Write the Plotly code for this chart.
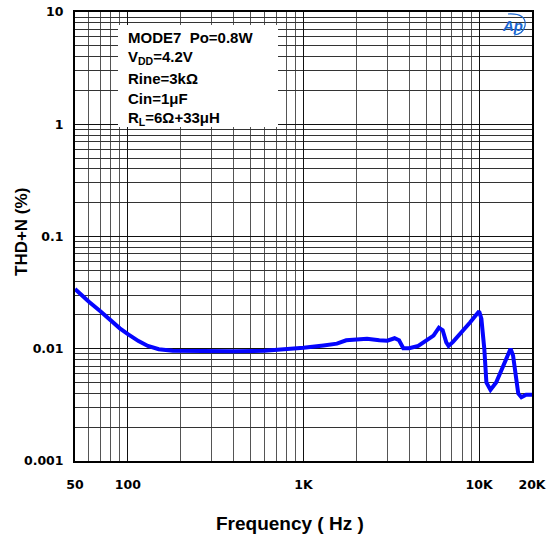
import math
import plotly.graph_objects as go

# ---- data ----
freq = [50, 55, 60, 70, 80, 90, 100, 115, 130, 150, 180, 250, 400, 600, 800,
        1000, 1300, 1550, 1750, 2000, 2300, 2700, 3000, 3300, 3500, 3700, 4000,
        4500, 5000, 5500, 5900, 6200, 6500, 6700, 7100, 7500, 8200, 8900, 9600,
        10000, 10300, 10700, 11000, 11600, 12500, 13500, 14500, 15100, 15600,
        16200, 16700, 17400, 18500, 20000]
thdn = [0.034, 0.0295, 0.0262, 0.0215, 0.0178, 0.0152, 0.0135, 0.0117, 0.0106,
        0.0099, 0.0096, 0.0095, 0.0095, 0.0096, 0.0099,
        0.0102, 0.0107, 0.0111, 0.0119, 0.0122, 0.0123, 0.0119, 0.0118, 0.0124,
        0.0119, 0.0101, 0.0101,
        0.0106, 0.0118, 0.0131, 0.0154, 0.0146, 0.0114, 0.0106, 0.0115, 0.0127,
        0.0145, 0.0172, 0.0200,
        0.0215, 0.0185, 0.0100, 0.0050, 0.0043, 0.0050, 0.0066, 0.0086, 0.0100,
        0.0087, 0.0052, 0.0040, 0.0037, 0.0039, 0.0039]

x_tickvals = [50, 100, 1000, 10000, 20000]
x_ticktext = ["50", "100", "1K", "10K", "20K"]
y_tickvals = [0.001, 0.01, 0.1, 1, 10]
y_ticktext = ["0.001", "0.01", "0.1", "1", "10"]
x_minor = [60, 70, 80, 90] + [k * 100 for k in range(2, 10)] + [k * 1000 for k in range(2, 10)]
y_minor = [k * 10.0 ** e for e in range(-3, 1) for k in range(2, 10)]

info_lines = ["MODE7  Po=0.8W", "V<sub>DD</sub>=4.2V", "Rine=3kΩ", "Cin=1μF",
              "R<sub>L</sub>=6Ω+33μH"]

W, H = 558, 541
L, R, T, B = 75, 26, 12, 80
pw, ph = W - L - R, H - T - B


def px(xp):
    return (xp - L) / pw


def py(yp):
    return (H - B - yp) / ph


fig = go.Figure()
fig.add_trace(go.Scatter(x=freq, y=thdn, mode="lines",
                         line=dict(color="#0505ff", width=4), showlegend=False))

tickfont = dict(family="DejaVu Sans", size=12.5, color="black")
fig.update_xaxes(type="log", range=[math.log10(50), math.log10(20000)],
                 tickvals=x_tickvals, ticktext=["<b>" + t + "</b>" for t in x_ticktext],
                 tickfont=tickfont, automargin=False,
                 showline=True, linewidth=2, linecolor="black", mirror=True,
                 showgrid=True, gridcolor="#111", gridwidth=1.3,
                 ticks="", ticklabelstandoff=11, zeroline=False,
                 minor=dict(tickvals=x_minor, showgrid=True, gridcolor="#555", gridwidth=1.2, ticks=""))
fig.update_yaxes(type="log", range=[-3, 1],
                 tickvals=y_tickvals, ticktext=["<b>" + t + "</b>" for t in y_ticktext],
                 tickfont=tickfont, automargin=False,
                 showline=True, linewidth=2, linecolor="black", mirror=True,
                 showgrid=True, gridcolor="#111", gridwidth=1.3,
                 ticks="", ticklabelstandoff=7, zeroline=False,
                 minor=dict(tickvals=y_minor, showgrid=True, gridcolor="#333", gridwidth=1.2, ticks=""))

# info box background
fig.add_shape(type="rect", xref="paper", yref="paper",
              x0=px(118), x1=px(278), y0=py(127), y1=py(25),
              fillcolor="white", line=dict(width=0), layer="above")

boxfont = dict(family="Liberation Sans, Arial", size=15, color="black")
for i, t in enumerate(info_lines):
    fig.add_annotation(xref="paper", yref="paper", x=px(126), y=py(38 + 20 * i),
                       text="<b>" + t + "</b>", showarrow=False,
                       xanchor="left", yanchor="middle", font=boxfont)

# titles
fig.add_annotation(xref="paper", yref="paper", x=px(290), y=py(523),
                   text="<b>Frequency ( Hz )</b>", showarrow=False,
                   xanchor="center", yanchor="middle",
                   font=dict(family="Liberation Sans, Arial", size=19, color="black"))
fig.add_annotation(xref="paper", yref="paper", x=px(22), y=py(232),
                   text="<b>THD+N (%)</b>", showarrow=False, textangle=-90,
                   xanchor="center", yanchor="middle",
                   font=dict(family="Liberation Sans, Arial", size=17, color="black"))

# Ap logo
fig.add_annotation(xref="paper", yref="paper", x=px(512), y=py(25),
                   text="<b><i>Ap</i></b>", showarrow=False, xanchor="center", yanchor="middle",
                   font=dict(family="Liberation Sans, Arial", size=15, color="#1a66d0"))
p = lambda a, b: f"{px(a)},{py(b)}"
fig.add_shape(type="path", xref="paper", yref="paper",
              path=f"M {p(508,14)} Q {p(527,13)} {p(525,26)} Q {p(523,34)} {p(514,35)}",
              line=dict(color="#1a66d0", width=1.2))

fig.update_layout(width=W, height=H, margin=dict(l=L, r=R, t=T, b=B, autoexpand=False),
                  paper_bgcolor="white", plot_bgcolor="white",
                  font=dict(family="Liberation Sans, Arial", color="black"))

fig.write_html("out.html")
